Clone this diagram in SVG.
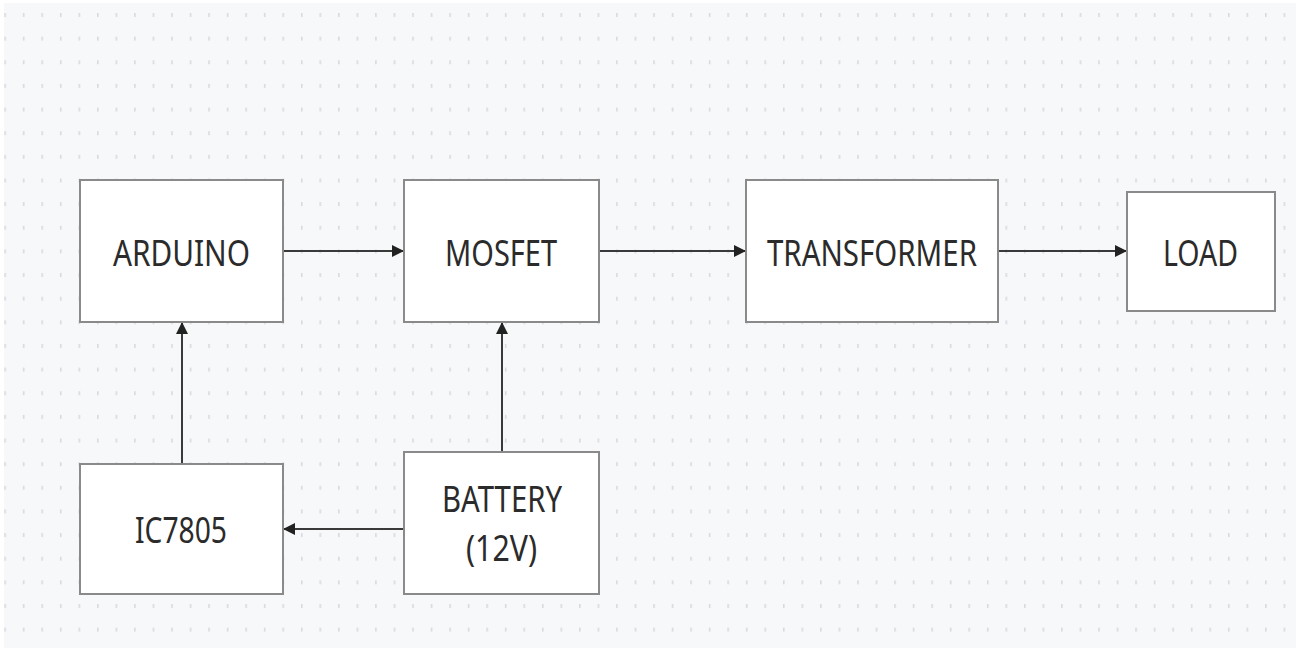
<svg xmlns="http://www.w3.org/2000/svg" width="1299" height="652" viewBox="0 0 1299 652">
  <style>
    .box { fill: #ffffff; stroke: #8a8a8a; stroke-width: 2; }
    .lbl { font-family: "Noto Sans", "Open Sans", "DejaVu Sans", sans-serif; font-size: 36px; fill: #2b2b2b; text-anchor: middle; }
    .conn { stroke: #3a3a3a; stroke-width: 2; fill: none; marker-end: url(#arrow); }
  </style>
  <defs>
    <pattern id="dots" patternUnits="userSpaceOnUse" x="4.3" y="13" width="18.54" height="23.64">
      <rect x="0" y="0" width="1.6" height="4" fill="#d9dadf"/>
    </pattern>
    <marker id="arrow" viewBox="0 0 10 10" refX="10" refY="5" markerWidth="6" markerHeight="6" orient="auto" markerUnits="strokeWidth">
      <path d="M0,0 L10,5 L0,10 z" fill="#222222"/>
    </marker>
  </defs>
  <rect x="0" y="0" width="1299" height="652" fill="#ffffff"/>
  <rect x="4" y="3" width="1292" height="645" fill="#f7f8fa"/>
  <rect x="4" y="3" width="1292" height="645" fill="url(#dots)"/>

  <g id="connectors">
    <line class="conn" x1="284" y1="251" x2="404" y2="251"/>
    <line class="conn" x1="600" y1="251" x2="746" y2="251"/>
    <line class="conn" x1="999" y1="251" x2="1127" y2="251"/>
    <line class="conn" x1="182" y1="463" x2="182" y2="322"/>
    <line class="conn" x1="502" y1="451" x2="502" y2="322"/>
    <line class="conn" x1="403" y1="529" x2="283" y2="529"/>
  </g>

  <g id="arduino">
    <rect class="box" x="80" y="180" width="203" height="142"/>
    <text class="lbl" x="181.5" y="266" textLength="137" lengthAdjust="spacingAndGlyphs">ARDUINO</text>
  </g>
  <g id="mosfet">
    <rect class="box" x="404" y="180" width="195" height="142"/>
    <text class="lbl" x="501" y="266" textLength="112" lengthAdjust="spacingAndGlyphs">MOSFET</text>
  </g>
  <g id="transformer">
    <rect class="box" x="746" y="180" width="252" height="142"/>
    <text class="lbl" x="872" y="266" textLength="210" lengthAdjust="spacingAndGlyphs">TRANSFORMER</text>
  </g>
  <g id="load">
    <rect class="box" x="1127" y="192" width="148" height="119"/>
    <text class="lbl" x="1200.5" y="266" textLength="75" lengthAdjust="spacingAndGlyphs">LOAD</text>
  </g>
  <g id="ic7805">
    <rect class="box" x="80" y="464" width="203" height="130"/>
    <text class="lbl" x="181" y="543" textLength="92" lengthAdjust="spacingAndGlyphs">IC7805</text>
  </g>
  <g id="battery">
    <rect class="box" x="404" y="452" width="195" height="142"/>
    <text class="lbl" x="502" y="512" textLength="120" lengthAdjust="spacingAndGlyphs">BATTERY</text>
    <text class="lbl" x="501.5" y="561" textLength="71" lengthAdjust="spacingAndGlyphs">(12V)</text>
  </g>
</svg>
